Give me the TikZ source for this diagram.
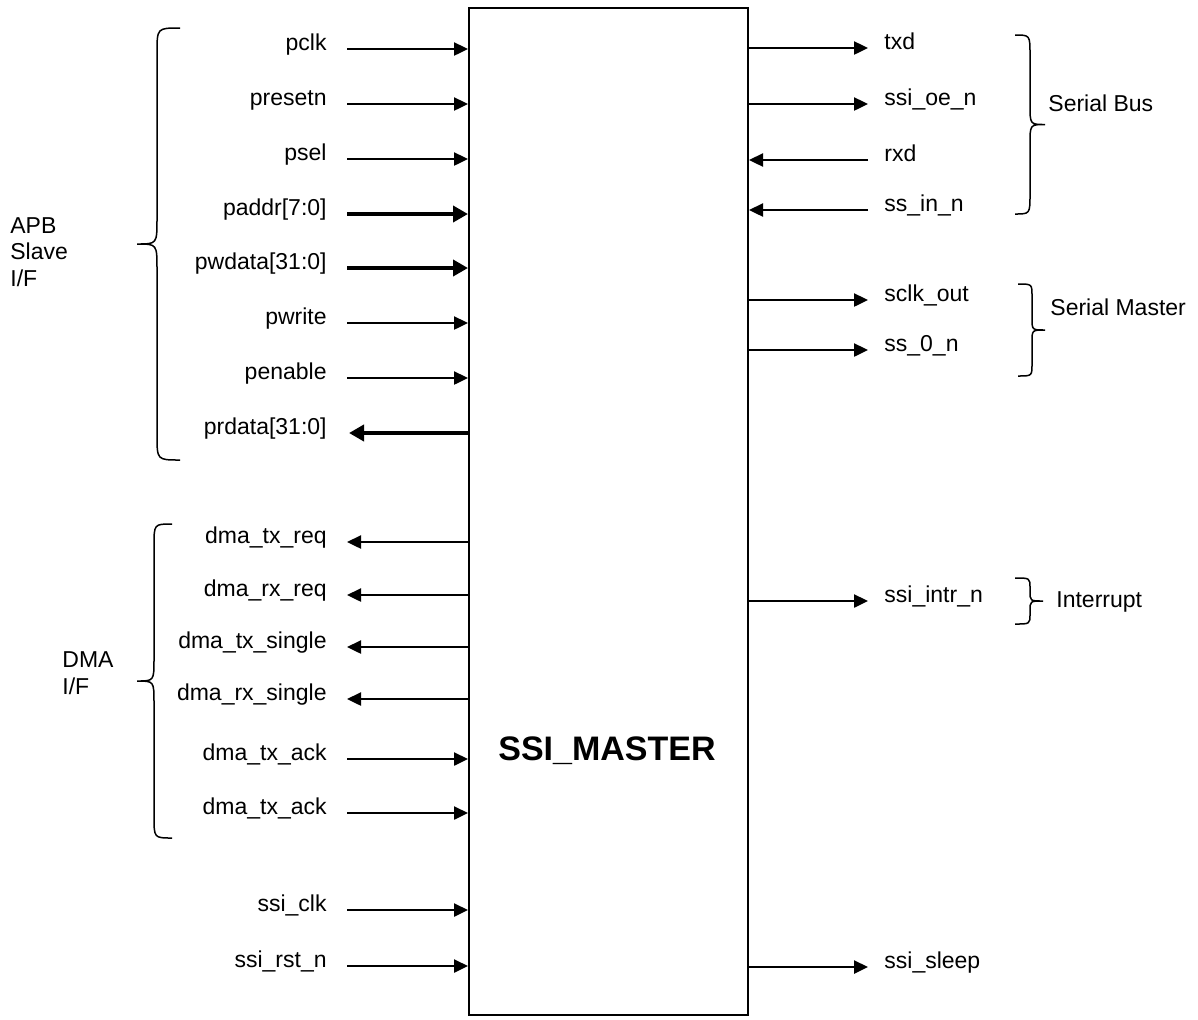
\documentclass[tikz,border=0pt]{standalone}
\usepackage{fontspec}
\setmainfont{Liberation Sans}
\usetikzlibrary{arrows.meta}

\begin{document}
\begin{tikzpicture}[
    x=.5pt, y=-.5pt,
    sig/.style={font=\fontsize{11.5}{13.25}\selectfont, inner sep=0pt},
    wire/.style={line width=1.2pt, -{Triangle[length=7pt, width=6.5pt]}},
    bus/.style={line width=2.4pt, -{Triangle[length=7.5pt, width=8pt]}},
    curly/.style={line width=.75pt},
  ]
  \useasboundingbox (0,0) rectangle (1198,1019);

  \node[draw, line width=1pt, minimum width=139.5pt, minimum height=503.5pt] (ssi) at (608.5,511.5) {};
  \node[font=\fontsize{17}{20}\selectfont\bfseries] (title) at (607,751) {SSI\_MASTER};

  %% inputs on the left
  \foreach \n/\t/\y in {pclk/pclk/49, presetn/presetn/104, psel/psel/159, pwrite/pwrite/323,
      penable/penable/378, dmatxack/dma\_tx\_ack/759, dmarxack/dma\_tx\_ack/813,
      ssiclk/ssi\_clk/910, ssirst/ssi\_rst\_n/966}{
    \node[sig, anchor=base east] (\n) at (327,\y+1.5) {\t};
    \draw[wire] ([shift={(10pt,.75pt)}]\n.base east) -- (ssi.west |- 0,\y);
  }
  \foreach \n/\t/\y in {paddr/paddr[7:0]/214, pwdata/pwdata[31:0]/268}{
    \node[sig, anchor=base east] (\n) at (327,\y+1.5) {\t};
    \draw[bus] ([shift={(10pt,.75pt)}]\n.base east) -- (ssi.west |- 0,\y);
  }

  %% outputs on the left
  \foreach \n/\t/\y in {dmatxreq/dma\_tx\_req/542, dmarxreq/dma\_rx\_req/595,
      dmatxsgl/dma\_tx\_single/647, dmarxsgl/dma\_rx\_single/699}{
    \node[sig, anchor=base east] (\n) at (327,\y+1.5) {\t};
    \draw[wire] (ssi.west |- 0,\y) -- ([shift={(10pt,.75pt)}]\n.base east);
  }
  \node[sig, anchor=base east] (prdata) at (327,434.5) {prdata[31:0]};
  \draw[bus] (ssi.west |- 0,433) -- ([shift={(11pt,.75pt)}]prdata.base east);

  %% right side
  \foreach \n/\t/\y in {txd/txd/48, ssioe/ssi\_oe\_n/104, sclkout/sclk\_out/300,
      sszero/ss\_0\_n/350, intrn/ssi\_intr\_n/601, sleep/ssi\_sleep/967}{
    \node[sig, anchor=base west] (\n) at (884,\y+1.5) {\t};
    \draw[wire] (ssi.east |- 0,\y) -- ([shift={(-8pt,.75pt)}]\n.base west);
  }
  \foreach \n/\t/\y in {rxd/rxd/160, ssin/ss\_in\_n/210}{
    \node[sig, anchor=base west] (\n) at (884,\y+1.5) {\t};
    \draw[wire] ([shift={(-8pt,.75pt)}]\n.base west) -- (ssi.east |- 0,\y);
  }

  %% braces and group names
  \foreach \xe/\xm/\xt/\yt/\yb/\c in {180/157/137/28/460/25, 172/154/137/524/838/22,
      1015/1030/1045/35/214/20, 1018/1032/1045/284/376/12, 1015/1030/1043/578/624/10}{
    \pgfmathsetmacro\ym{(\yt+\yb)/2}
    \draw[curly] (\xe,\yt) .. controls (\xm,\yt) .. (\xm,\yt+\c) -- (\xm,\ym-\c)
      .. controls (\xm,\ym) .. (\xt,\ym) .. controls (\xm,\ym) .. (\xm,\ym+\c)
      -- (\xm,\yb-\c) .. controls (\xm,\yb) .. (\xe,\yb);
  }
  \node[sig, anchor=west, align=left] (apb) at (10,252) {APB\\Slave\\I/F};
  \node[sig, anchor=west, align=left] (dma) at (62,673) {DMA\\I/F};
  \node[sig, anchor=west] (sbus) at (1048,103) {Serial Bus};
  \node[sig, anchor=west] (smaster) at (1050,307) {Serial Master};
  \node[sig, anchor=west] (intr) at (1056,602) {Interrupt};
\end{tikzpicture}
\end{document}
